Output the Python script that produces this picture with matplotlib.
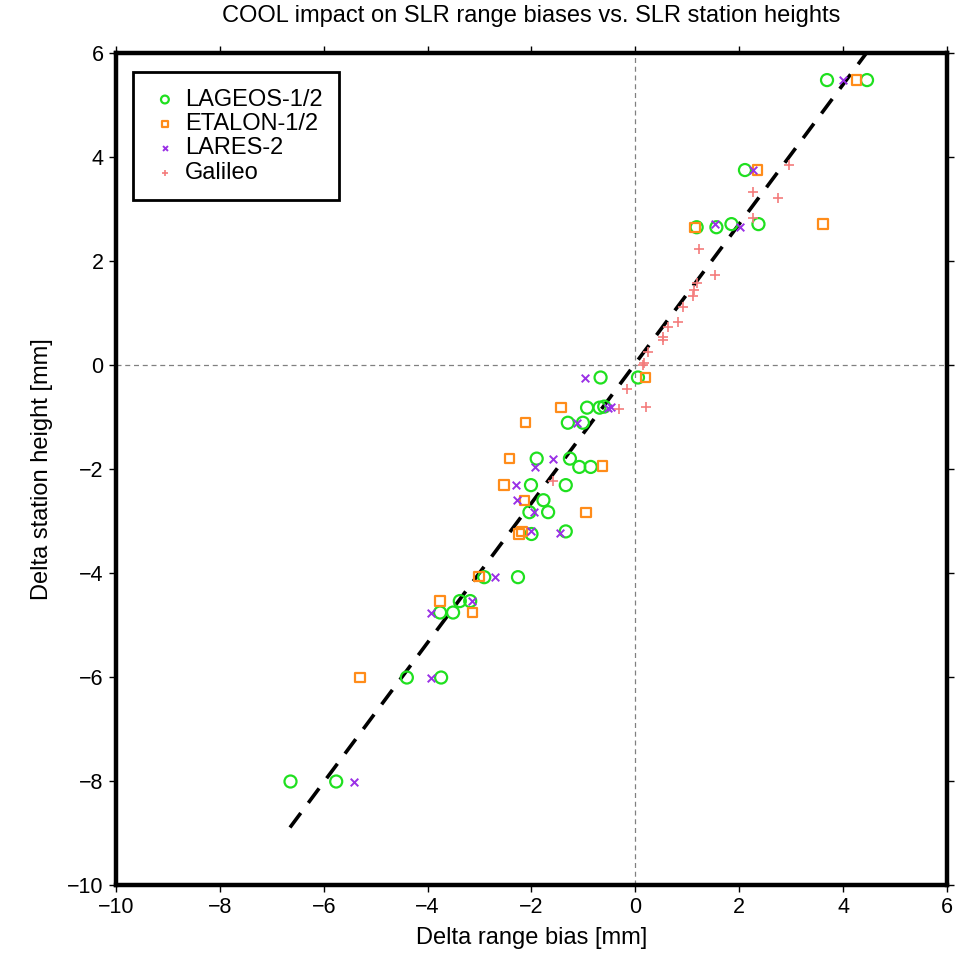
import numpy as np
import matplotlib
matplotlib.use("Agg")
import matplotlib.pyplot as plt

plt.rcParams['font.family'] = ['Liberation Sans', 'DejaVu Sans']

# data (range bias [mm], station height [mm])
lageos_x = [-0.67, 0.05, -0.93, -0.69, -0.60, -1.30, -1.01, -1.90, -1.26, -1.08, -0.86,
            -2.01, -1.34, -1.77, -1.68, -2.04, -2.00, -1.34, -2.91, -2.26, -3.38, -3.18,
            -3.76, -3.51, -4.40, -3.74, -6.64, -5.76, 2.11, 1.18, 1.56, 1.85, 2.37, 3.69, 4.46]
lageos_y = [-0.24, -0.24, -0.82, -0.82, -0.80, -1.11, -1.11, -1.80, -1.80, -1.96, -1.96,
            -2.31, -2.31, -2.60, -2.83, -2.83, -3.25, -3.20, -4.08, -4.08, -4.54, -4.54,
            -4.76, -4.76, -6.01, -6.01, -8.01, -8.01, 3.75, 2.65, 2.65, 2.71, 2.71, 5.48, 5.48]

etalon_x = [0.20, -1.43, -2.12, -2.43, -0.63, -2.53, -2.14, -0.95, -2.24, -2.18,
            -3.01, -3.76, -3.14, -5.30, 2.35, 1.15, 3.61, 4.26]
etalon_y = [-0.24, -0.82, -1.11, -1.80, -1.94, -2.31, -2.60, -2.83, -3.25, -3.20,
            -4.07, -4.54, -4.76, -6.01, 3.75, 2.65, 2.71, 5.48]

lares_x = [-0.97, -0.46, -0.52, -1.12, -1.58, -1.93, -2.30, -2.27, -1.95, -2.00, -1.46,
           -2.70, -3.15, -3.94, -3.93, -5.42, 2.27, 1.53, 2.01, 4.00]
lares_y = [-0.24, -0.80, -0.82, -1.11, -1.80, -1.96, -2.31, -2.60, -2.83, -3.20, -3.24,
           -4.07, -4.54, -4.76, -6.01, -8.01, 3.75, 2.71, 2.65, 5.48]

galileo_x = [0.15, -0.16, 0.20, -0.31, -1.59, 2.96, 2.26, 2.74, 2.27, 1.22, 1.53, 1.18,
             1.13, 1.10, 0.91, 0.83, 0.63, 0.53, 0.54, 0.25, 0.17]
galileo_y = [0.00, -0.47, -0.80, -0.85, -2.24, 3.85, 3.33, 3.21, 2.83, 2.24, 1.73, 1.57,
             1.44, 1.33, 1.12, 0.83, 0.74, 0.53, 0.48, 0.26, 0.03]

# dashed regression line
fit_slope = 1.342
fit_offset = 0.03
fit_x = [-6.65, 4.6]

ticks = [-10, -8, -6, -4, -2, 0, 2, 4, 6]

fig = plt.figure(figsize=(9.69, 9.61), dpi=100)
ax = fig.add_axes([0.1197, 0.0791, 0.8576, 0.8657])

ax.axhline(0, color='0.5', lw=0.9, ls=(0, (4, 3)), zorder=1)
ax.axvline(0, color='0.5', lw=0.9, ls=(0, (4, 3)), zorder=1)

fx = np.array(fit_x)
ax.plot(fx, fit_slope * fx + fit_offset, color='black', lw=2.6, ls=(0, (5, 3.5)), zorder=2)

ax.scatter(lageos_x, lageos_y, s=75, facecolors='none', edgecolors='#1fe01f', linewidths=1.6,
           label='LAGEOS-1/2', zorder=3)
ax.scatter(etalon_x, etalon_y, s=45, marker='s', facecolors='none', edgecolors='#ff8c1a',
           linewidths=1.6, label='ETALON-1/2', zorder=3)
ax.scatter(lares_x, lares_y, s=30, marker='x', color='#9a30e6', linewidths=1.4,
           label='LARES-2', zorder=3)
ax.scatter(galileo_x, galileo_y, s=60, marker='+', color='#f47c7c', linewidths=1.2,
           label='Galileo', zorder=3)

ax.set_xlim(-10, 6)
ax.set_ylim(-10, 6)
ax.set_xticks(ticks)
ax.set_yticks(ticks)
ax.set_xticklabels([str(t).replace('-', '\u2212') for t in ticks])
ax.set_yticklabels([str(t).replace('-', '\u2212') for t in ticks])
ax.tick_params(direction='out', length=5, width=1, labelsize=15.5, top=True, right=True,
               pad=4)
for sp in ax.spines.values():
    sp.set_linewidth(3.2)

ax.set_xlabel('Delta range bias [mm]', fontsize=17, labelpad=6)
ax.set_ylabel('Delta station height [mm]', fontsize=17, labelpad=10)
ax.set_title('COOL impact on SLR range biases vs. SLR station heights', fontsize=17, pad=22)

leg = ax.legend(loc='upper left', bbox_to_anchor=(0.0205, 0.977), borderaxespad=0,
                fontsize=17, frameon=True, fancybox=False, edgecolor='black', framealpha=1,
                markerscale=0.65, handletextpad=0.2, labelspacing=0.1, borderpad=0.7,
                handlelength=1.3)
leg.get_frame().set_linewidth(2)

fig.savefig('out.png', dpi=100)
